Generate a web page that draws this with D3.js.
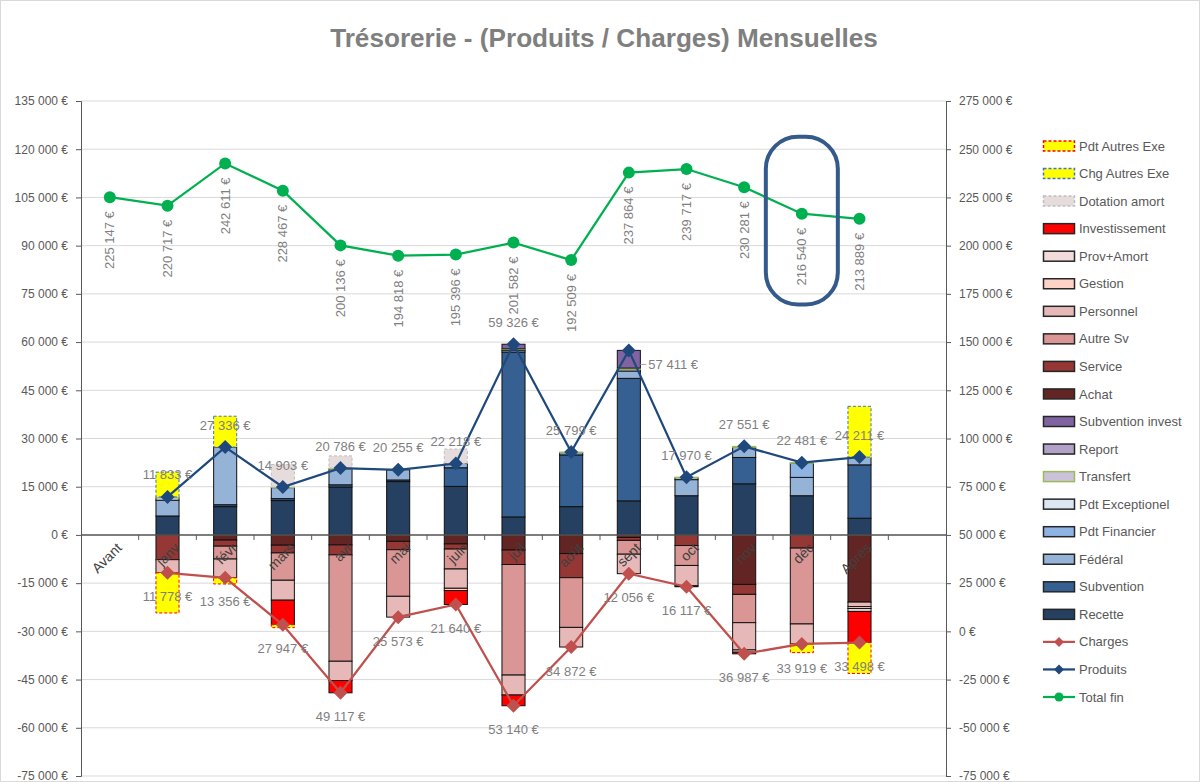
<!DOCTYPE html>
<html>
<head>
<meta charset="utf-8">
<script src="https://cdn.jsdelivr.net/npm/d3@7"></script>
<style>
  body { margin: 0; background: #fff; }
  svg { display: block; font-family: "Liberation Sans", Arial, sans-serif; }
</style>
</head>
<body>
<svg id="chart" width="1200" height="782"></svg>
<script>
// categories (the last one is an empty slot, as in the workbook)
const categories = ['Avant', 'janv', 'févr', 'mars', 'avr', 'mai', 'juin', 'juil', 'août', 'sept', 'oct', 'nov', 'déc', 'Après', ''];

// produits (positive stack)
const recette = [0, 5900, 8800, 10700, 14900, 16600, 15100, 5600, 8800, 10600, 12200, 15900, 12200, 5200];
const subvention = [0, 0, 600, 600, 700, 500, 5800, 51300, 16100, 38111, 0, 8200, 0, 16600];
const federal = [0, 4900, 17936, 3400, 4900, 3155, 1318, 600, 0, 2300, 5000, 3151, 5700, 2300];
const pdtFinancier = [0, 0, 0, 0, 0, 0, 0, 0, 700, 0, 0, 0, 4400, 0];
const pdtExceptionel = [0, 800, 0, 0, 0, 0, 0, 200, 0, 500, 600, 0, 0, 0];
const transfert = [0, 233, 0, 203, 286, 0, 0, 200, 199, 400, 170, 300, 181, 111];
const report = [0, 0, 0, 0, 0, 0, 0, 0, 0, 0, 0, 0, 0, 0];
const subventionInvest = [0, 0, 0, 0, 0, 0, 0, 1426, 0, 5500, 0, 0, 0, 0];
// charges (negative stack)
const achat = [0, 0, -1600, -3200, -3100, -2000, -2800, -4700, -5800, -800, 0, -15400, 0, -20900];
const service = [0, -7700, -1900, -2400, -3100, -2600, -1600, -4500, -7500, -900, -3300, -3100, -4100, 0];
const autreSv = [0, 0, -4000, -8500, -33100, -14500, -6200, -34400, -15472, -4300, -6200, -8800, -23600, 0];
const personnel = [0, -4078, -5856, -6200, -6000, -6473, -6000, -6200, -6100, -6056, -6300, -8487, -6219, -1400];
const gestion = [0, 0, 0, 0, 0, 0, -700, 0, 0, 0, 0, -700, 0, -600];
const provAmort = [0, 0, 0, 0, 0, 0, 0, 0, 0, 0, -317, 0, 0, -900];
const investissement = [0, 0, 0, -7647, -3817, 0, -4340, -3340, 0, 0, 0, -500, 0, -9698];
// corrections
const dotationAmort = [0, 0, 0, 7000, 3800, 0, 4500, 0, 0, 0, 0, 0, 0, 0];
const chgAutresExe = [0, 7700, 9600, 0, 0, 0, 0, 0, 0, 0, 0, 0, 0, 15800];
const pdtAutresExe = [0, -12500, -1900, -900, 0, 0, 0, 0, 0, 0, 0, 0, -2700, -9600];

// lines
const produits = [null, 11833, 27336, 14903, 20786, 20255, 22218, 59326, 25799, 57411, 17970, 27551, 22481, 24211];
const charges = [null, -11778, -13356, -27947, -49117, -25573, -21640, -53140, -34872, -12056, -16117, -36987, -33919, -33498];
const totalFin = [225147, 220717, 242611, 228467, 200136, 194818, 195396, 201582, 192509, 237864, 239717, 230281, 216540, 213889];

const leftTicks = d3.range(-75000, 135001, 15000);
const rightTicks = d3.range(-75000, 275001, 25000);

// series in stacking order, with their look
const barSeries = [
  {key: 'Recette', values: recette, fill: '#254061', stroke: '#111'},
  {key: 'Subvention', values: subvention, fill: '#376092', stroke: '#111'},
  {key: 'Fédéral', values: federal, fill: '#95b3d7', stroke: '#111'},
  {key: 'Pdt Financier', values: pdtFinancier, fill: '#8eb4e3', stroke: '#111'},
  {key: 'Pdt Exceptionel', values: pdtExceptionel, fill: '#dce6f2', stroke: '#111'},
  {key: 'Transfert', values: transfert, fill: '#ccc1da', stroke: '#9bbb59'},
  {key: 'Report', values: report, fill: '#b3a2c7', stroke: '#111'},
  {key: 'Subvention invest', values: subventionInvest, fill: '#8064a2', stroke: '#111'},
  {key: 'Achat', values: achat, fill: '#632523', stroke: '#111'},
  {key: 'Service', values: service, fill: '#953735', stroke: '#111'},
  {key: 'Autre Sv', values: autreSv, fill: '#d99694', stroke: '#111'},
  {key: 'Personnel', values: personnel, fill: '#e6b9b8', stroke: '#111'},
  {key: 'Gestion', values: gestion, fill: '#fcd3c6', stroke: '#111'},
  {key: 'Prov+Amort', values: provAmort, fill: '#f2dcdb', stroke: '#111'},
  {key: 'Investissement', values: investissement, fill: '#ff0000', stroke: '#111'},
  {key: 'Dotation amort', values: dotationAmort, fill: '#e6dcdc', stroke: '#bfbfbf', dash: '3,2'},
  {key: 'Chg Autres Exe', values: chgAutresExe, fill: '#ffff00', stroke: '#4472c4', dash: '3,2'},
  {key: 'Pdt Autres Exe', values: pdtAutresExe, fill: '#ffff00', stroke: '#ff0000', dash: '3,2'}
];

const width = 1200, height = 782;
const svg = d3.select('#chart');

const loc = d3.formatLocale({decimal: ',', thousands: '\u00a0', grouping: [3], currency: ['', ''], minus: '-'});
const num = loc.format(',.0f');
const euro = v => num(v) + '\u00a0€';

const x = d3.scaleBand().domain(categories).range([81, 946]).padding(0);
const cx = c => x(c) + x.bandwidth() / 2;
const barW = x.bandwidth() * 0.4;
const yL = d3.scaleLinear().domain([-75000, 135000]).range([776, 101]);
const yR = d3.scaleLinear().domain([-75000, 275000]).range([776, 101]);

svg.append('rect').attr('x', 0.5).attr('y', 0.5).attr('width', width - 1).attr('height', height - 1)
  .attr('fill', '#fff').attr('stroke', '#d9d9d9');

// title
const title = svg.append('text')
  .attr('x', 604).attr('y', 47).attr('text-anchor', 'middle')
  .attr('fill', '#7f7f7f').attr('font-weight', 'bold').attr('font-size', 22)
  .text('Trésorerie - (Produits / Charges) Mensuelles');
const tw = title.node().getComputedTextLength();
title.attr('font-size', 22 * 548 / tw);

// grid
svg.append('g').selectAll('line').data(leftTicks).join('line')
  .attr('x1', 81).attr('x2', 946)
  .attr('y1', d => yL(d)).attr('y2', d => yL(d))
  .attr('stroke', '#d9d9d9').attr('stroke-width', 1);

// axes
const gl = svg.append('g').attr('transform', 'translate(81,0)')
  .call(d3.axisLeft(yL).tickValues(leftTicks).tickFormat(euro).tickSize(5).tickPadding(8));
const gr = svg.append('g').attr('transform', 'translate(946,0)')
  .call(d3.axisRight(yR).tickValues(rightTicks).tickFormat(euro).tickSize(5).tickPadding(8));
[gl, gr].forEach(g => {
  g.select('.domain').attr('stroke', '#595959');
  g.selectAll('.tick line').attr('stroke', '#595959');
  g.selectAll('.tick text').attr('fill', '#595959').attr('font-size', 12)
    .attr('font-family', '"Liberation Sans", Arial, sans-serif');
});

// stacked bars
const rows = categories.slice(0, 14).map((c, i) => {
  const r = {cat: c};
  barSeries.forEach(s => { r[s.key] = s.values[i]; });
  return r;
});
const stack = d3.stack().keys(barSeries.map(s => s.key)).offset(d3.stackOffsetDiverging)(rows);

const bars = svg.append('g');
stack.forEach((layer, li) => {
  const s = barSeries[li];
  bars.append('g').selectAll('rect')
    .data(layer.filter(d => d[1] - d[0] !== 0))
    .join('rect')
    .attr('x', d => cx(d.data.cat) - barW / 2)
    .attr('width', barW)
    .attr('y', d => yL(Math.max(d[0], d[1])))
    .attr('height', d => Math.abs(yL(d[0]) - yL(d[1])))
    .attr('fill', s.fill)
    .attr('stroke', s.stroke)
    .attr('stroke-width', 1)
    .attr('stroke-dasharray', s.dash || null);
});

// x axis at zero
const xAxis = svg.append('g');
xAxis.append('line').attr('x1', 81).attr('x2', 946)
  .attr('y1', yL(0)).attr('y2', yL(0)).attr('stroke', '#595959').attr('stroke-width', 1.5);
xAxis.selectAll('.tk').data(categories.slice(1)).join('line').attr('class', 'tk')
  .attr('x1', d => x(d)).attr('x2', d => x(d))
  .attr('y1', yL(0)).attr('y2', yL(0) + 5).attr('stroke', '#595959');
xAxis.selectAll('text').data(categories.filter(c => c !== '')).join('text')
  .attr('transform', d => `translate(${cx(d) + 6},${yL(0) + 7}) rotate(-45)`)
  .attr('text-anchor', 'end').attr('dy', '0.7em')
  .attr('fill', '#404040').attr('font-size', 14)
  .text(d => d);

// lines
const diamond = 'M0,-7L7,0L0,7L-7,0Z';
const pts = (vals, scale) => vals.map((v, i) => ({cat: categories[i], v, y: v == null ? null : scale(v)}))
  .filter(d => d.v != null);

function drawLine(data, color, marker) {
  svg.append('path').datum(data)
    .attr('d', d3.line().x(d => cx(d.cat)).y(d => d.y))
    .attr('fill', 'none').attr('stroke', color).attr('stroke-width', 2.25);
  const g = svg.append('g');
  if (marker === 'diamond') {
    g.selectAll('path').data(data).join('path')
      .attr('d', diamond).attr('transform', d => `translate(${cx(d.cat)},${d.y})`)
      .attr('fill', color);
  } else {
    g.selectAll('circle').data(data).join('circle')
      .attr('cx', d => cx(d.cat)).attr('cy', d => d.y).attr('r', 6).attr('fill', color);
  }
}

const chargePts = pts(charges, yL);
const produitPts = pts(produits, yL);
const totalPts = pts(totalFin, yR);
drawLine(chargePts, '#c0504d', 'diamond');
drawLine(produitPts, '#1f497d', 'diamond');
drawLine(totalPts, '#00b050', 'circle');

// labels
const labelColor = '#7f7f7f';
const sideLabel = new Set(['sept']);
const lg = svg.append('g').attr('font-size', 13).attr('fill', labelColor);
lg.selectAll('.lp').data(produitPts).join('text').attr('class', 'lp')
  .attr('x', d => sideLabel.has(d.cat) ? cx(d.cat) + barW / 2 + 8 : cx(d.cat))
  .attr('y', d => sideLabel.has(d.cat) ? d.y + 14 : d.y - 22)
  .attr('dy', '0.35em')
  .attr('text-anchor', d => sideLabel.has(d.cat) ? 'start' : 'middle')
  .text(d => euro(d.v));
lg.selectAll('.ll').data(produitPts.filter(d => sideLabel.has(d.cat))).join('line').attr('class', 'll')
  .attr('x1', d => cx(d.cat) + barW / 2).attr('x2', d => cx(d.cat) + barW / 2 + 6)
  .attr('y1', d => d.y + 14).attr('y2', d => d.y + 14).attr('stroke', '#a6a6a6');
lg.selectAll('.lc').data(chargePts).join('text').attr('class', 'lc')
  .attr('x', d => cx(d.cat)).attr('y', d => d.y + 24).attr('dy', '0.35em')
  .attr('text-anchor', 'middle')
  .text(d => euro(Math.abs(d.v)));
lg.selectAll('.lt').data(totalPts).join('text').attr('class', 'lt')
  .attr('transform', d => `translate(${cx(d.cat)},${d.y + 14}) rotate(-90)`)
  .attr('text-anchor', 'end').attr('dy', '0.35em')
  .text(d => euro(d.v));

// highlight around déc
svg.append('rect')
  .attr('x', cx('déc') - 36).attr('width', 72)
  .attr('y', yR(256500)).attr('height', yR(169500) - yR(256500))
  .attr('rx', 32).attr('ry', 32)
  .attr('fill', 'none').attr('stroke', '#335a8a').attr('stroke-width', 4);

// legend
const legendItems = barSeries.slice().reverse().map(s => ({...s, type: 'bar'}))
  .concat([
    {key: 'Charges', type: 'line', stroke: '#c0504d', marker: 'diamond'},
    {key: 'Produits', type: 'line', stroke: '#1f497d', marker: 'diamond'},
    {key: 'Total fin', type: 'line', stroke: '#00b050', marker: 'circle'}
  ]);
const legend = svg.append('g').attr('transform', 'translate(1043,146)');
const li = legend.selectAll('g').data(legendItems).join('g')
  .attr('transform', (d, i) => `translate(0,${i * 27.55})`);
li.filter(d => d.type === 'bar').append('rect')
  .attr('x', 0.5).attr('y', -5).attr('width', 31).attr('height', 10)
  .attr('fill', d => d.fill).attr('stroke', d => d.stroke === '#111' ? '#262626' : d.stroke)
  .attr('stroke-width', 1.5).attr('stroke-dasharray', d => d.dash || null);
li.filter(d => d.type === 'line').append('line')
  .attr('x1', 0).attr('x2', 32).attr('y1', 0).attr('y2', 0)
  .attr('stroke', d => d.stroke).attr('stroke-width', 2.25);
li.filter(d => d.marker === 'diamond').append('path')
  .attr('d', 'M0,-5L5,0L0,5L-5,0Z').attr('transform', 'translate(16,0)').attr('fill', d => d.stroke);
li.filter(d => d.marker === 'circle').append('circle')
  .attr('cx', 16).attr('cy', 0).attr('r', 4.5).attr('fill', d => d.stroke);
li.append('text').attr('x', 36).attr('dy', '0.35em')
  .attr('font-size', 13).attr('fill', '#595959').text(d => d.key);
</script>
</body>
</html>
